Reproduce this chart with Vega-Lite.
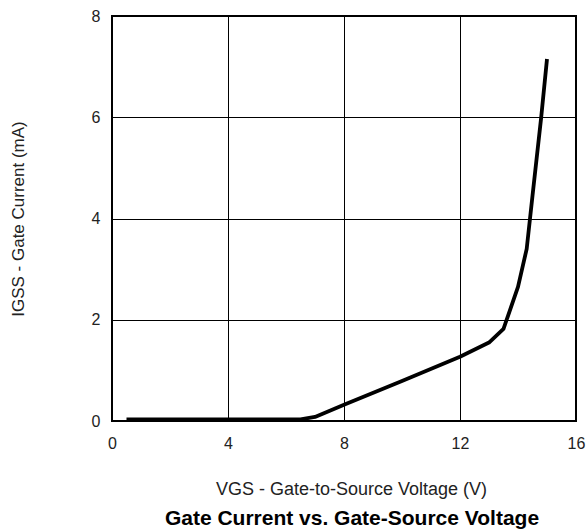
{
  "$schema": "https://vega.github.io/schema/vega-lite/v6.json",
  "autosize": "none",
  "width": 464,
  "height": 405,
  "padding": {"left": 112, "top": 16, "right": 11, "bottom": 110},
  "background": "white",
  "title": {
    "text": "Gate Current vs. Gate-Source Voltage",
    "orient": "bottom",
    "anchor": "middle",
    "font": "Liberation Sans",
    "fontSize": 21,
    "fontWeight": "bold",
    "color": "black",
    "offset": 10,
    "dx": 8
  },
  "config": {
    "view": {"stroke": "black", "strokeWidth": 2},
    "axis": {
      "labelFont": "Liberation Sans",
      "titleFont": "Liberation Sans",
      "labelFontSize": 16,
      "titleFontSize": 17,
      "titleFontWeight": "normal",
      "labelColor": "#222",
      "titleColor": "#222",
      "domain": false,
      "ticks": false,
      "gridColor": "black",
      "gridOpacity": 1,
      "gridWidth": 1
    }
  },
  "data": {
    "values": [
      {"vgs": 0.5, "igss": 0.03},
      {"vgs": 6.5, "igss": 0.03},
      {"vgs": 7.0, "igss": 0.08},
      {"vgs": 8.0, "igss": 0.32},
      {"vgs": 10.0, "igss": 0.79},
      {"vgs": 12.0, "igss": 1.27},
      {"vgs": 13.0, "igss": 1.55},
      {"vgs": 13.5, "igss": 1.82},
      {"vgs": 14.0, "igss": 2.65},
      {"vgs": 14.3, "igss": 3.4},
      {"vgs": 14.5, "igss": 4.45},
      {"vgs": 14.8, "igss": 6.0},
      {"vgs": 15.0, "igss": 7.15}
    ]
  },
  "mark": {"type": "line", "color": "black", "strokeWidth": 3.8, "strokeJoin": "round"},
  "encoding": {
    "x": {
      "field": "vgs",
      "type": "quantitative",
      "scale": {"domain": [0, 16], "nice": false},
      "axis": {
        "values": [0, 4, 8, 12, 16],
        "title": "VGS - Gate-to-Source Voltage (V)",
        "titleFontSize": 18,
        "titleX": 239,
        "labelPadding": 14,
        "titlePadding": 29,
        "labelFlush": false
      }
    },
    "y": {
      "field": "igss",
      "type": "quantitative",
      "scale": {"domain": [0, 8], "nice": false},
      "axis": {
        "values": [0, 2, 4, 6, 8],
        "title": "IGSS - Gate Current (mA)",
        "labelPadding": 12,
        "titlePadding": 64
      }
    }
  }
}
